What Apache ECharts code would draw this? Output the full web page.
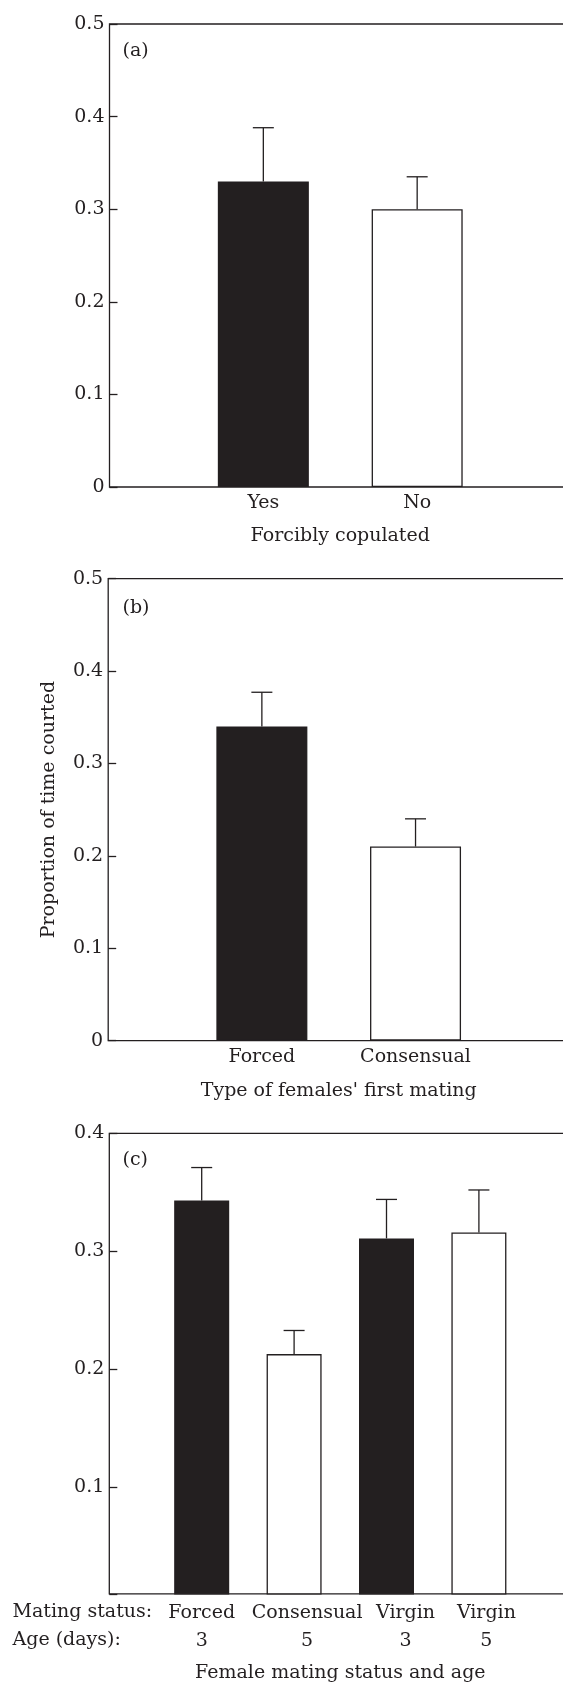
<!DOCTYPE html>
<html>
<head>
<meta charset="utf-8">
<script src="https://cdn.jsdelivr.net/npm/echarts@6/dist/echarts.min.js"></script>
<style>
  html, body { margin: 0; padding: 0; background: #fff; }
  #chart { width: 563px; height: 1682px; }
</style>
</head>
<body>
<div id="chart"></div>
<script>
// (a) forcibly copulated
const aCategories = ['Yes', 'No'];
const aMeans = [0.330, 0.300];
const aUpper = [0.388, 0.335];

// (b) type of females' first mating
const bCategories = ['Forced', 'Consensual'];
const bMeans = [0.340, 0.210];
const bUpper = [0.377, 0.240];

// (c) mating status and age
const cStatus = ['Forced', 'Consensual', 'Virgin', 'Virgin'];
const cAge = ['3', '5', '3', '5'];
const cMeans = [0.343, 0.213, 0.311, 0.316];
const cUpper = [0.371, 0.233, 0.344, 0.352];

const abTicks = [0, 0.1, 0.2, 0.3, 0.4, 0.5];
const cTicks = [0.1, 0.2, 0.3, 0.4];

const INK = '#231f20';
const FONT = 'DejaVu Serif';
const black = INK, white = '#ffffff';
const aFill = [black, white];
const bFill = [black, white];
const cFill = [black, white, black, white];
// typeset label shifts in (c), px to the right of each bar
const cLabelShift = [0, 13, 19, 7.5];

const textBase = { fontFamily: FONT, fontSize: 19, color: INK };

function pad(arr, blank) {
  return [blank].concat(arr, [blank]);
}

function tickFormatter(ticks) {
  return function (v) {
    const hit = ticks.some(t => Math.abs(t - v) < 1e-6);
    if (!hit) return '';
    return v === 0 ? '0' : v.toFixed(1);
  };
}

function barSeries(i, means, fills, barWidth) {
  return {
    type: 'bar',
    xAxisIndex: i,
    yAxisIndex: i,
    barWidth: barWidth,
    silent: true,
    itemStyle: { borderColor: INK, borderWidth: 1.3 },
    data: pad(means.map((v, k) => ({ value: v, itemStyle: { color: fills[k] } })), '-'),
    z: 2
  };
}

function errorSeries(i, means, upper) {
  return {
    type: 'custom',
    xAxisIndex: i,
    yAxisIndex: i,
    silent: true,
    z: 3,
    data: means.map((m, k) => [k + 1, m, upper[k]]),
    renderItem: function (params, api) {
      const base = api.coord([api.value(0), api.value(1)]);
      const top = api.coord([api.value(0), api.value(2)]);
      const st = { stroke: INK, lineWidth: 1.3 };
      return {
        type: 'group',
        children: [
          { type: 'line', shape: { x1: base[0], y1: base[1], x2: top[0], y2: top[1] }, style: st },
          { type: 'line', shape: { x1: top[0] - 10.5, y1: top[1], x2: top[0] + 10.5, y2: top[1] }, style: st }
        ]
      };
    }
  };
}

function yAxis(i, min, max, ticks, extra) {
  const ax = {
    type: 'value',
    gridIndex: i,
    min: min,
    max: max,
    axisLine: { show: false },
    axisTick: { show: true, inside: true, length: 8, lineStyle: { color: INK, width: 1.3 } },
    splitLine: { show: false },
    axisLabel: Object.assign({ margin: 5, formatter: tickFormatter(ticks) }, textBase)
  };
  return Object.assign(ax, extra || {});
}

function xAxis(i, cats, name, labelExtra, nameGap) {
  return {
    type: 'category',
    gridIndex: i,
    boundaryGap: false,
    data: pad(cats, ''),
    axisLine: { show: false },
    axisTick: { show: false },
    axisLabel: Object.assign({ interval: 0, margin: 7 }, textBase, labelExtra || {}),
    name: name,
    nameLocation: 'middle',
    nameGap: nameGap,
    nameTextStyle: textBase
  };
}

const gridBase = {
  show: true, borderColor: INK, borderWidth: 1.3, backgroundColor: 'transparent',
  containLabel: false, outerBoundsMode: 'none'
};

// rich labels for (c): two rows, shifted per category
const cRich = {};
cLabelShift.forEach((s, k) => {
  cRich['o' + (k + 1)] = Object.assign({ lineHeight: 28, padding: [0, 0, 0, 2 * s] }, textBase);
});

const option = {
  animation: false,
  backgroundColor: '#fff',
  grid: [
    Object.assign({ left: 109.5, top: 24, width: 461.5, height: 463 }, gridBase),
    Object.assign({ left: 108.2, top: 578.6, width: 461, height: 462 }, gridBase),
    Object.assign({ left: 109.3, top: 1133.3, width: 462, height: 460.5 }, gridBase)
  ],
  xAxis: [
    xAxis(0, aCategories, 'Forcibly copulated', null, 40),
    xAxis(1, bCategories, "Type of females' first mating", null, 41),
    xAxis(2, cStatus, 'Female mating status and age', {
      margin: 5,
      formatter: function (v, idx) {
        if (idx < 1 || idx > cStatus.length) return '';
        const t = 'o' + idx;
        return '{' + t + '|' + cStatus[idx - 1] + '}\n{' + t + '|' + cAge[idx - 1] + '}';
      },
      rich: cRich
    }, 70)
  ],
  yAxis: [
    yAxis(0, 0, 0.5, abTicks, { interval: 0.1 }),
    yAxis(1, 0, 0.5, abTicks, {
      interval: 0.1,
      name: 'Proportion of time courted',
      nameLocation: 'middle',
      nameGap: 50,
      nameTextStyle: textBase
    }),
    yAxis(2, 0.01, 0.4, cTicks, { splitNumber: 4 })
  ],
  series: [
    barSeries(0, aMeans, aFill, 91),
    errorSeries(0, aMeans, aUpper),
    barSeries(1, bMeans, bFill, 91),
    errorSeries(1, bMeans, bUpper),
    barSeries(2, cMeans, cFill, 55),
    errorSeries(2, cMeans, cUpper)
  ],
  graphic: [
    { type: 'text', x: 122.5, y: 51, style: { text: '(a)', font: '19px "DejaVu Serif"', fill: INK, verticalAlign: 'middle' } },
    { type: 'text', x: 122.5, y: 607.7, style: { text: '(b)', font: '19px "DejaVu Serif"', fill: INK, verticalAlign: 'middle' } },
    { type: 'text', x: 122.5, y: 1160, style: { text: '(c)', font: '19px "DejaVu Serif"', fill: INK, verticalAlign: 'middle' } },
    { type: 'text', x: 12.5, y: 1612.5, style: { text: 'Mating status:', font: '19px "DejaVu Serif"', fill: INK, verticalAlign: 'middle' } },
    { type: 'text', x: 12.5, y: 1640.5, style: { text: 'Age (days):', font: '19px "DejaVu Serif"', fill: INK, verticalAlign: 'middle' } }
  ]
};

const myChart = echarts.init(document.getElementById('chart'), null, { renderer: 'canvas' });
myChart.setOption(option);
</script>
</body>
</html>
